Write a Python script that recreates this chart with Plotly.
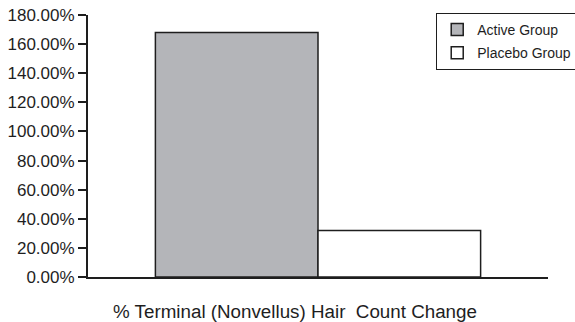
import plotly.graph_objects as go

categories = ["% Terminal (Nonvellus) Hair\u00a0 Count Change"]
series_names = ["Active Group", "Placebo Group"]
active_values = [168.0]
placebo_values = [32.0]
tick_values = [0, 20, 40, 60, 80, 100, 120, 140, 160, 180]
tick_labels = [f"{v:.2f}%" for v in tick_values]

FONT = "Liberation Sans, Arial, Helvetica, sans-serif"
INK = "#1e1e1e"

fig = go.Figure()
fig.add_trace(go.Bar(
    x=categories, y=active_values, name=series_names[0], legendgroup="a",
    marker=dict(color="#b4b5b9", line=dict(color=INK, width=1.5)),
))
fig.add_trace(go.Bar(
    x=categories, y=placebo_values, name=series_names[1], legendgroup="p",
    marker=dict(color="#ffffff", line=dict(color=INK, width=1.5)),
))

fig.update_layout(
    width=575, height=322,
    margin=dict(l=88, r=27, t=15, b=45, autoexpand=False),
    paper_bgcolor="white", plot_bgcolor="white",
    barmode="group", bargap=0.293, bargroupgap=0,
    font=dict(family=FONT, color=INK),
    showlegend=True,
    legend=dict(
        x=0.757, y=1.008, xanchor="left", yanchor="top",
        bgcolor="white", bordercolor=INK, borderwidth=1,
        font=dict(family=FONT, size=14, color=INK),
        traceorder="grouped", tracegroupgap=2, itemwidth=30,
    ),
    xaxis=dict(
        showticklabels=False, ticks="", showgrid=False,
        showline=True, linecolor=INK, linewidth=2,
    ),
    yaxis=dict(
        range=[0, 180], tickvals=tick_values, ticktext=tick_labels,
        ticks="outside", ticklen=8, tickwidth=1.5, tickcolor=INK,
        showgrid=False, zeroline=False,
        showline=True, linecolor=INK, linewidth=2,
        tickfont=dict(family=FONT, size=17, color=INK),
    ),
    annotations=[dict(
        text=categories[0], xref="paper", yref="paper",
        x=(295 - 88) / 460, y=-(311 - 277) / 262, xanchor="center", yanchor="middle",
        showarrow=False, font=dict(family=FONT, size=18.8, color=INK),
    )],
)

fig.write_html("out.html", config={"displayModeBar": False},
               post_script="document.body.style.margin='0';")
